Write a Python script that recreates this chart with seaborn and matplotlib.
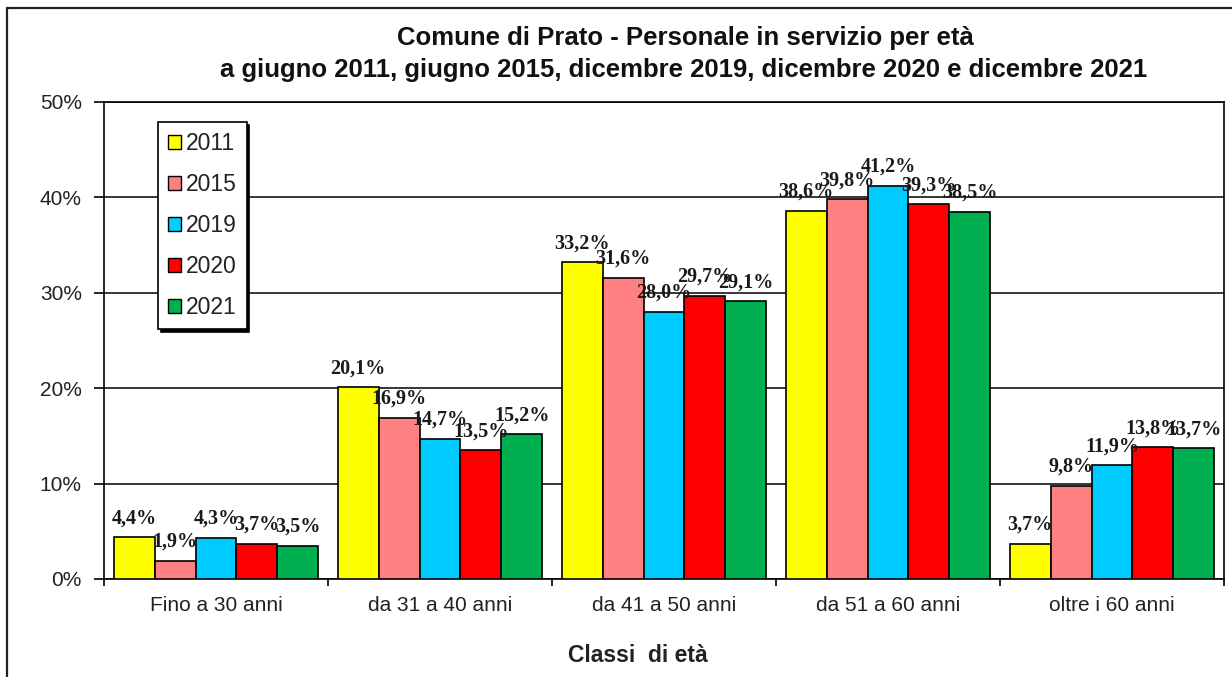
import matplotlib
matplotlib.use("Agg")
import matplotlib.pyplot as plt
from matplotlib.lines import Line2D
from matplotlib.patches import Patch
from matplotlib.ticker import FuncFormatter, MultipleLocator
import pandas as pd
import seaborn as sns

# Age classes and staff shares (%) per survey date
classi = ["Fino a 30 anni", "da 31 a 40 anni", "da 41 a 50 anni",
          "da 51 a 60 anni", "oltre i 60 anni"]
anni = ["2011", "2015", "2019", "2020", "2021"]
v2011 = [4.4, 20.1, 33.2, 38.6, 3.7]
v2015 = [1.9, 16.9, 31.6, 39.8, 9.8]
v2019 = [4.3, 14.7, 28.0, 41.2, 11.9]
v2020 = [3.7, 13.5, 29.7, 39.3, 13.8]
v2021 = [3.5, 15.2, 29.1, 38.5, 13.7]
colori = ["#FFFF00", "#FF8080", "#00CCFF", "#FF0000", "#00B050"]

serie = [v2011, v2015, v2019, v2020, v2021]
rows = []
for anno, valori in zip(anni, serie):
    for classe, v in zip(classi, valori):
        rows.append({"classe": classe, "anno": anno, "quota": v / 100})
df = pd.DataFrame(rows)

sns.set_style("white")
plt.rcParams["font.family"] = ["Liberation Sans", "DejaVu Sans"]

W, H = 1232, 677
fig = plt.figure(figsize=(W / 100, H / 100), dpi=100)
ax = fig.add_axes([104 / W, 1 - 579 / H, (1224 - 104) / W, (579 - 102) / H])

sns.barplot(data=df, x="classe", y="quota", hue="anno", order=classi,
            hue_order=anni, palette=colori, saturation=1, width=0.915,
            edgecolor="black", linewidth=1.2, errorbar=None, ax=ax,
            legend=False, zorder=3)

ax.set_xlim(-0.5, 4.5)
ax.set_ylim(0, 0.5)
ax.yaxis.set_major_locator(MultipleLocator(0.1))
ax.yaxis.set_major_formatter(FuncFormatter(lambda y, _: f"{y * 100:.0f}%"))
ax.grid(axis="y", color="black", linewidth=1.1, zorder=0)
ax.grid(axis="x", visible=False)
ax.set_axisbelow(True)
for sp in ax.spines.values():
    sp.set_visible(True)
    sp.set_color("black")
    sp.set_linewidth(1.2)

# category labels at centres, ticks at group boundaries
ax.set_xticks(range(len(classi)))
ax.set_xticklabels(classi, fontsize=15, color="#222222")
ax.tick_params(axis="x", which="major", length=0, pad=12)
ax.set_xticks([i - 0.5 for i in range(len(classi) + 1)], minor=True)
ax.tick_params(axis="x", which="minor", direction="out", length=5,
               width=1.2, color="black", bottom=True)
ax.tick_params(axis="y", direction="out", length=7, width=1.2,
               color="black", labelsize=15, labelcolor="#222222", pad=9,
               left=True)
ax.set_xlabel("")
ax.set_ylabel("")

# value labels above each bar
for cont in ax.containers:
    for bar in cont:
        h = bar.get_height()
        txt = f"{h * 100:.1f}".replace(".", ",") + "%"
        ax.annotate(txt, (bar.get_x() + bar.get_width() / 2, h),
                    xytext=(0, 10), textcoords="offset points",
                    ha="center", va="baseline", fontsize=14.5,
                    fontweight="bold", color="#1a1a1a",
                    family=["Liberation Serif", "DejaVu Serif"], zorder=5)

# legend with square swatches and dropped shadow
handles = [Patch(facecolor=c, edgecolor="black", linewidth=1.0)
           for c in colori]
leg = ax.legend(handles, anni, loc="upper left",
                bbox_to_anchor=((158 - 104) / 1120, (579 - 122) / 477),
                frameon=True, fancybox=False, fontsize=16.5,
                handlelength=0.55, handleheight=0.55, handletextpad=0.2,
                labelspacing=0.78, borderpad=0.45, borderaxespad=0,
                shadow={"color": "black", "alpha": 1})
leg.get_frame().set_edgecolor("black")
leg.get_frame().set_linewidth(1.2)
for t in leg.get_texts():
    t.set_color("#222222")
leg.set_zorder(10)

# titles
fig.text(685 / W, 1 - 38 / H, "Comune di Prato - Personale in servizio per età",
         ha="center", va="center", fontsize=18.5, fontweight="bold",
         color="#111111")
fig.text(684 / W, 1 - 70 / H,
         "a giugno 2011, giugno 2015, dicembre 2019, dicembre 2020 e dicembre 2021",
         ha="center", va="center", fontsize=18.5, fontweight="bold",
         color="#111111")
fig.text(638 / W, 1 - 655 / H, "Classi  di età", ha="center", va="center",
         fontsize=16.5, fontweight="bold", color="#222222")

# outer frame of the chart area
fig.add_artist(Line2D([7 / W, 7 / W], [0, 1 - 8 / H], color="#222222",
                      linewidth=1.6, transform=fig.transFigure))
fig.add_artist(Line2D([7 / W, 1], [1 - 8 / H, 1 - 8 / H], color="#222222",
                      linewidth=1.6, transform=fig.transFigure))

fig.savefig("out.png", dpi=100, facecolor="white")
